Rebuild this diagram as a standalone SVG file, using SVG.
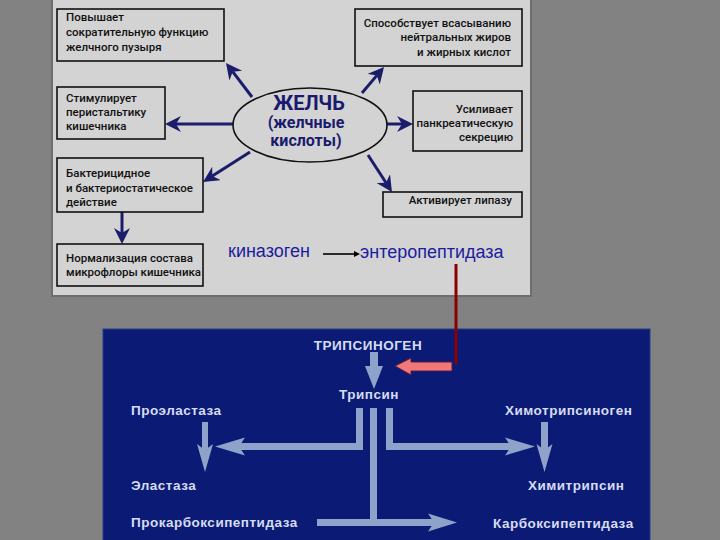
<svg xmlns="http://www.w3.org/2000/svg" width="720" height="540" viewBox="0 0 720 540">
<style>
.box{fill:#d3d3d3;stroke:#111;stroke-width:1.6}
.t{font-family:Roboto,"Liberation Sans",sans-serif;font-weight:500;font-size:11.5px;fill:#111}
.r{text-anchor:end}
.nav{stroke:#1c1c6c;stroke-width:3;fill:none}
.bt{font-family:"Liberation Sans",Arial,sans-serif;font-weight:bold;font-size:13.5px;letter-spacing:0.5px;fill:#d6dcf2}
.lb{fill:#8fa2c9}
.ell{font-family:Roboto,"Liberation Sans",sans-serif;font-weight:bold;fill:#1a1a6e;text-anchor:middle}
.blue{font-family:"Liberation Sans",Arial,sans-serif;font-size:18px;fill:#1c1ca0}
</style>
<defs>
<marker id="ah" markerUnits="userSpaceOnUse" markerWidth="18" markerHeight="18" refX="5" refY="8" orient="auto">
<path d="M0,0 L16,8 L0,16 L5,8 z" fill="#1c1c6c"/>
</marker>
<marker id="sm" markerUnits="userSpaceOnUse" markerWidth="8" markerHeight="8" refX="1" refY="3" orient="auto">
<path d="M0,0 L6,3 L0,6 z" fill="#000"/>
</marker>
</defs>
<rect width="720" height="540" fill="#828282"/>
<rect x="52" y="-2" width="479" height="298" fill="#d3d3d3" stroke="#6e6e6e" stroke-width="2"/>
<rect x="103" y="329" width="547" height="213" fill="#0b1b75" stroke="#2a3a8a" stroke-width="1"/>

<g id="connectors">
<line class="nav" x1="252" y1="97" x2="232.7" y2="71.7" marker-end="url(#ah)"/>
<line class="nav" x1="236" y1="124" x2="176" y2="124" marker-end="url(#ah)"/>
<line class="nav" x1="250" y1="152" x2="212.3" y2="176.1" marker-end="url(#ah)"/>
<line class="nav" x1="122" y1="212" x2="122" y2="233" marker-end="url(#ah)"/>
<line class="nav" x1="362" y1="93" x2="376.9" y2="75.4" marker-end="url(#ah)"/>
<line class="nav" x1="384" y1="124" x2="402" y2="124" marker-end="url(#ah)"/>
<line class="nav" x1="368" y1="155" x2="386" y2="182.8" marker-end="url(#ah)"/>
<line x1="323" y1="254" x2="355" y2="254" stroke="#000" stroke-width="1.6" marker-end="url(#sm)"/>
<line x1="456" y1="264" x2="456" y2="364" stroke="#8b0000" stroke-width="3"/>
<polygon points="395,366 411,358 411,362 452,362 452,371 411,371 411,375" fill="#f07878" stroke="#5a1a40" stroke-width="1"/>
<polygon class="lb" points="370,352 378,352 378,366 383,366 374,389 365,366 370,366"/>
<rect class="lb" x="356" y="408" width="7" height="42"/>
<rect class="lb" x="370" y="408" width="7" height="118"/>
<rect class="lb" x="386" y="408" width="7" height="42"/>
<rect class="lb" x="239" y="443" width="124" height="7"/>
<polygon class="lb" points="215,446.5 245,437.5 239,446.5 245,455.5"/>
<rect class="lb" x="386" y="443" width="125" height="7"/>
<polygon class="lb" points="535,446.5 505,437.5 511,446.5 505,455.5"/>
<rect class="lb" x="317" y="519" width="117" height="7"/>
<polygon class="lb" points="457,522.5 428,513.5 434,522.5 428,531.5"/>
<rect class="lb" x="202" y="422" width="6" height="28"/>
<polygon class="lb" points="205,472 197,444 205,450 213,444"/>
<rect class="lb" x="541" y="422" width="7" height="28"/>
<polygon class="lb" points="544.5,472 536.5,444 544.5,450 552.5,444"/>
</g>

<g id="bile">
<ellipse cx="310" cy="125" rx="77" ry="37" fill="#d3d3d3" stroke="#111" stroke-width="1.6"/>
<text class="ell" x="309" y="110" font-size="20">ЖЕЛЧЬ</text>
<text class="ell" x="306" y="128" font-size="16">(желчные</text>
<text class="ell" x="306" y="146" font-size="16">кислоты)</text>
</g>
<g id="n1"><rect class="box" x="57" y="9" width="167" height="52"/>
<text class="t" x="66" y="21">Повышает</text><text class="t" x="66" y="36">сократительную функцию</text><text class="t" x="66" y="51">желчного пузыря</text></g>
<g id="n2"><rect class="box" x="355" y="9" width="167" height="57"/>
<text class="t r" x="511" y="27">Способствует всасыванию</text><text class="t r" x="511" y="41">нейтральных жиров</text><text class="t r" x="511" y="56">и жирных кислот</text></g>
<g id="n3"><rect class="box" x="57" y="87" width="108" height="52"/>
<text class="t" x="66" y="102">Стимулирует</text><text class="t" x="66" y="116">перистальтику</text><text class="t" x="66" y="130">кишечника</text></g>
<g id="n4"><rect class="box" x="413" y="91" width="109" height="60"/>
<text class="t r" x="513" y="113">Усиливает</text><text class="t r" x="513" y="127">панкреатическую</text><text class="t r" x="513" y="141">секрецию</text></g>
<g id="n5"><rect class="box" x="57" y="158" width="146" height="54"/>
<text class="t" x="66" y="177">Бактерицидное</text><text class="t" x="66" y="192">и бактериостатическое</text><text class="t" x="66" y="206">действие</text></g>
<g id="n6"><rect class="box" x="57" y="244" width="146" height="42"/>
<text class="t" x="66" y="262">Нормализация состава</text><text class="t" x="66" y="276">микрофлоры кишечника</text></g>
<g id="n7"><rect class="box" x="383" y="192" width="139" height="25"/>
<text class="t r" x="512" y="204">Активирует липазу</text></g>
<g id="kinazogen"><text class="blue" x="228" y="257">киназоген</text></g>
<g id="enteropeptidaza"><text class="blue" x="360" y="258">энтеропептидаза</text></g>

<g id="trypsinogen"><text class="bt" x="368" y="350" text-anchor="middle">ТРИПСИНОГЕН</text></g>
<g id="trypsin"><text class="bt" x="339" y="399">Трипсин</text></g>
<g id="proelastase"><text class="bt" x="131" y="415">Проэластаза</text></g>
<g id="elastase"><text class="bt" x="131" y="490">Эластаза</text></g>
<g id="procarboxy"><text class="bt" x="131" y="527">Прокарбоксипептидаза</text></g>
<g id="chymotrypsinogen"><text class="bt" x="505" y="415">Химотрипсиноген</text></g>
<g id="chymotrypsin"><text class="bt" x="528" y="490">Химитрипсин</text></g>
<g id="carboxy"><text class="bt" x="493" y="528">Карбоксипептидаза</text></g>
</svg>
